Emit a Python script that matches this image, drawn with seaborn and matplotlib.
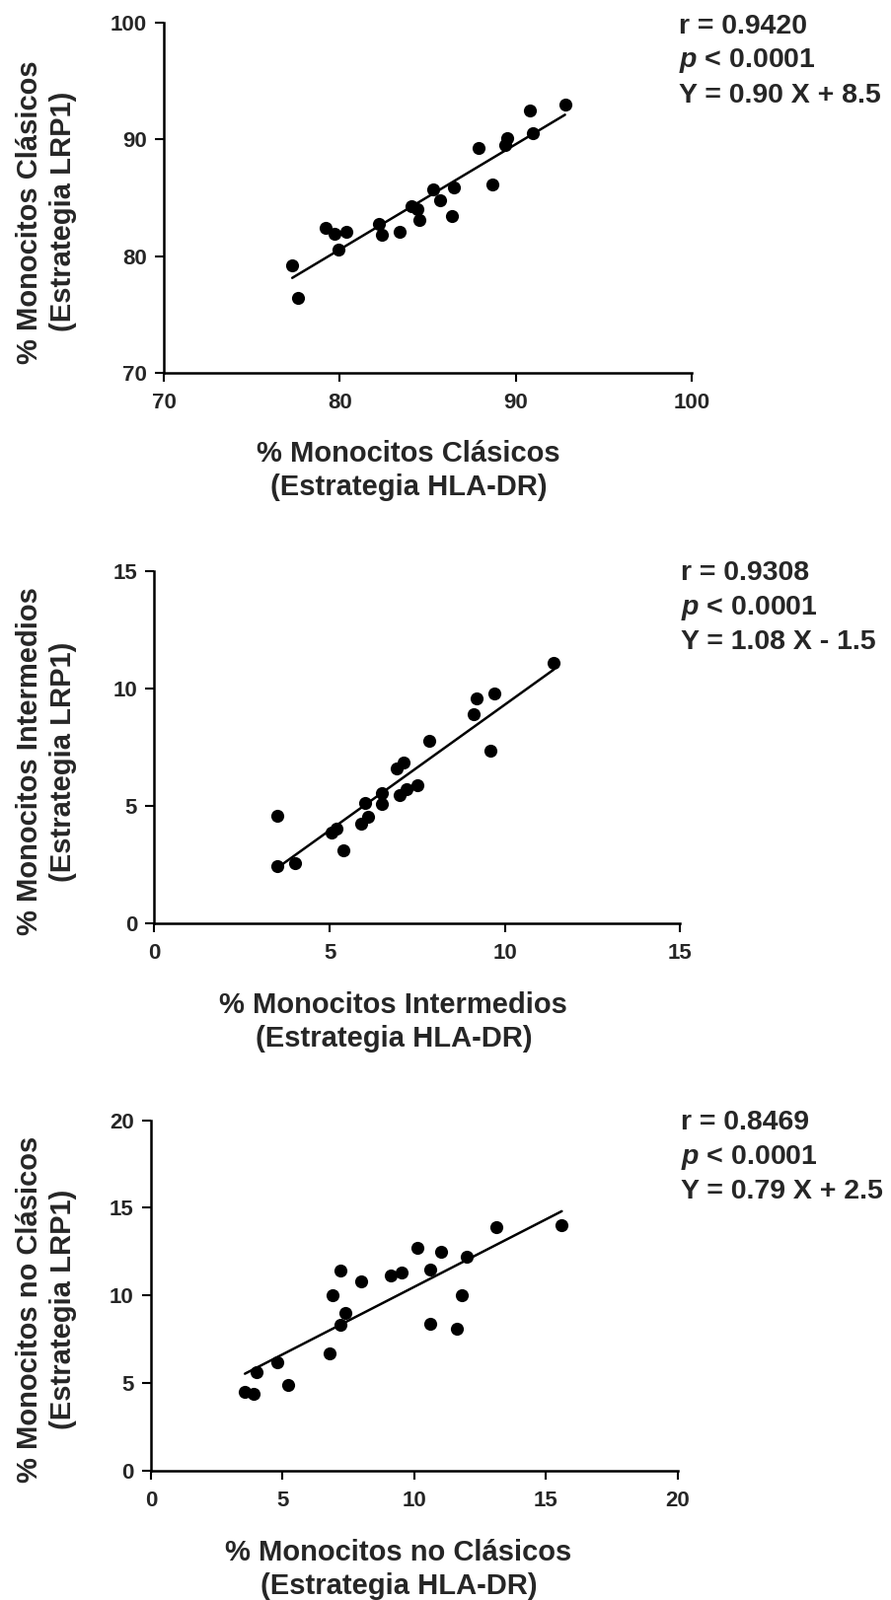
import numpy as np
import pandas as pd
import seaborn as sns
import matplotlib.pyplot as plt

# values
x_clasicos = [77.3, 77.6, 79.2, 79.7, 80.4, 79.9, 82.2, 82.4, 83.4, 84.1, 84.4, 84.5,
              85.3, 85.7, 86.5, 86.4, 87.9, 88.7, 89.4, 89.5, 90.8, 91.0, 92.8]
y_clasicos = [79.2, 76.4, 82.4, 81.9, 82.1, 80.6, 82.8, 81.8, 82.1, 84.3, 84.0, 83.1,
              85.7, 84.8, 85.9, 83.4, 89.3, 86.1, 89.5, 90.1, 92.5, 90.5, 93.0]

x_intermedios = [3.5, 3.5, 4.0, 5.05, 5.2, 5.4, 5.9, 6.1, 6.0, 6.5, 6.5, 6.9, 7.1,
                 7.0, 7.2, 7.5, 7.85, 9.1, 9.2, 9.7, 9.6, 11.4]
y_intermedios = [4.6, 2.45, 2.55, 3.85, 4.05, 3.1, 4.25, 4.55, 5.15, 5.55, 5.1, 6.6, 6.85,
                 5.45, 5.7, 5.9, 7.8, 8.9, 9.6, 9.8, 7.35, 11.1]

x_noclasicos = [3.57, 3.9, 4.0, 4.8, 5.2, 6.8, 6.9, 7.2, 7.2, 7.4, 8.0, 9.1, 9.5,
                10.1, 10.6, 10.6, 11.0, 11.6, 11.8, 12.0, 13.1, 15.6]
y_noclasicos = [4.5, 4.4, 5.6, 6.2, 4.9, 6.7, 10.0, 11.4, 8.3, 9.0, 10.8, 11.15, 11.3,
                12.7, 11.5, 8.4, 12.5, 8.1, 10.0, 12.2, 13.9, 14.0]

xlabels = ["% Monocitos Clásicos\n(Estrategia HLA-DR)",
           "% Monocitos Intermedios\n(Estrategia HLA-DR)",
           "% Monocitos no Clásicos\n(Estrategia HLA-DR)"]
ylabels = ["% Monocitos Clásicos\n(Estrategia LRP1)",
           "% Monocitos Intermedios\n(Estrategia LRP1)",
           "% Monocitos no Clásicos\n(Estrategia LRP1)"]
stats = [("r = 0.9420", "$p$ < 0.0001", "Y = 0.90 X + 8.5"),
         ("r = 0.9308", "$p$ < 0.0001", "Y = 1.08 X - 1.5"),
         ("r = 0.8469", "$p$ < 0.0001", "Y = 0.79 X + 2.5")]
limits = [(70, 100), (0, 15), (0, 20)]
ticks = [[70, 80, 90, 100], [0, 5, 10, 15], [0, 5, 10, 15, 20]]

sns.set_style("ticks")
plt.rcParams['font.family'] = ['Liberation Sans', 'DejaVu Sans']
plt.rcParams['font.weight'] = 'bold'
plt.rcParams['mathtext.fontset'] = 'custom'
plt.rcParams['mathtext.it'] = 'Liberation Sans:italic:bold'
plt.rcParams['mathtext.rm'] = 'Liberation Sans:bold'

W, H = 904, 1622
fig = plt.figure(figsize=(W / 100, H / 100), dpi=100)

# axes boxes in pixels: left, top, right, bottom
boxes = [(166, 22.7, 701, 378.3), (156.4, 579.3, 689.3, 936), (152.9, 1135.7, 686.8, 1490.7)]
xlab_pos = [(0.4636, -0.19), (0.455, -0.193), (0.470, -0.196)]
ylab_x = [78, 78, 78]
stat_pos = [(688, 33.5), (690, 588), (690, 1145)]

datasets = [(x_clasicos, y_clasicos), (x_intermedios, y_intermedios), (x_noclasicos, y_noclasicos)]

for i, (xs, ys) in enumerate(datasets):
    l, t, r, b = boxes[i]
    ax = fig.add_axes([l / W, 1 - b / H, (r - l) / W, (b - t) / H])
    df = pd.DataFrame({'x': xs, 'y': ys})
    sns.regplot(data=df, x='x', y='y', ax=ax, ci=None, truncate=True, color='black',
                scatter_kws={'s': 90, 'alpha': 1, 'linewidths': 0},
                line_kws={'lw': 1.8})
    ax.set_xlim(*limits[i])
    ax.set_ylim(*limits[i])
    ax.set_xticks(ticks[i])
    ax.set_yticks(ticks[i])
    ax.tick_params(axis='both', length=6.5, width=1.5, labelsize=16, color='black')
    ax.tick_params(axis='x', pad=8)
    ax.tick_params(axis='y', pad=6)
    for s in ['left', 'bottom']:
        ax.spines[s].set_linewidth(1.8)
        ax.spines[s].set_color('black')
    sns.despine(ax=ax)
    ax.set_xlabel(xlabels[i], fontsize=21, fontweight='bold', linespacing=1.27)
    ax.set_ylabel(ylabels[i], fontsize=21, fontweight='bold', linespacing=1.27)
    ax.xaxis.set_label_coords(*xlab_pos[i])
    ax.yaxis.set_label_coords((ylab_x[i] - l) / (r - l), 0.46)

    # stats block, one line at a time
    sx, sy = stat_pos[i]
    for k, line in enumerate(stats[i]):
        fig.text(sx / W, 1 - (sy + k * 35) / H, line, fontsize=20.5, fontweight='bold',
                 va='baseline', ha='left')

plt.savefig("out.png", dpi=100)
